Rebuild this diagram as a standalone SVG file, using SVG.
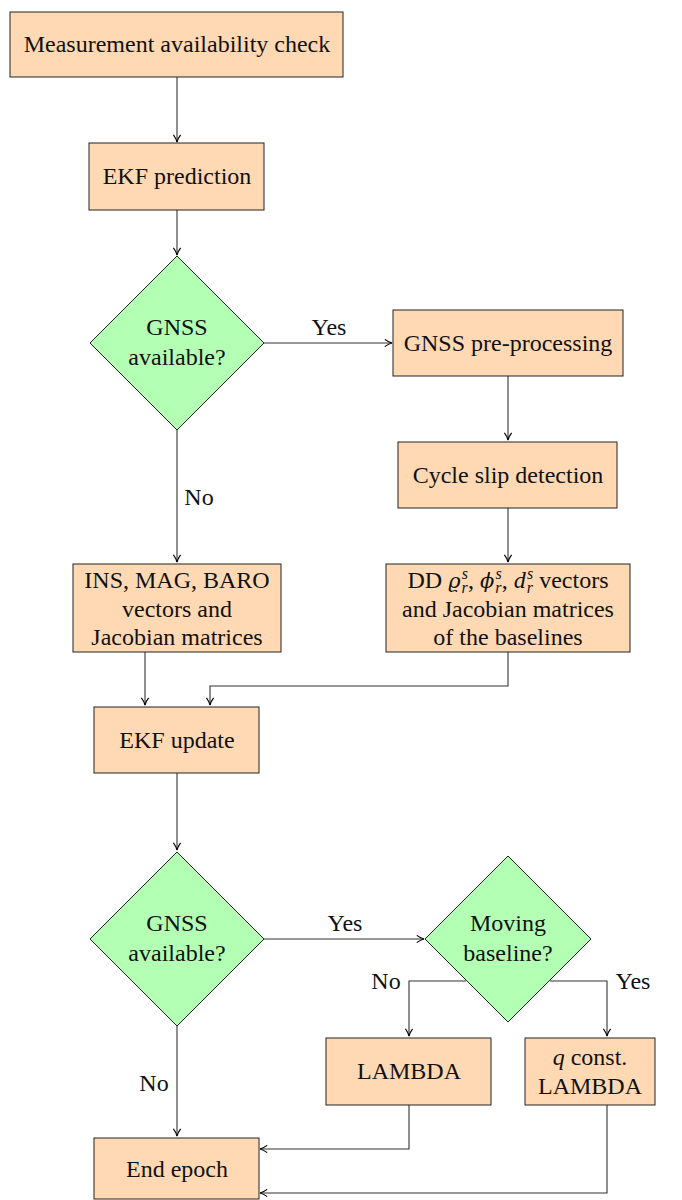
<svg xmlns="http://www.w3.org/2000/svg" width="682" height="1200" viewBox="0 0 682 1200">
<defs>
<marker id="ah" viewBox="0 0 10 10" refX="9" refY="5" markerWidth="9" markerHeight="9" markerUnits="userSpaceOnUse" orient="auto">
<path d="M1,1 Q5,4 9,5 Q5,6 1,9" fill="none" stroke="#000" stroke-width="1.3"/>
</marker>
</defs>
<style>
.box{fill:#FFD9B3;stroke:#222;stroke-width:1}
.dia{fill:#B3FFB3;stroke:#222;stroke-width:1}
.c{fill:none;stroke:#333;stroke-width:1.1}
</style>
<rect width="682" height="1200" fill="#fff"/>
<g font-family="Liberation Serif" font-size="24" fill="#111" text-anchor="middle">
<g id="connectors">
<path class="c" d="M177,77 V142" marker-end="url(#ah)"/>
<path class="c" d="M177,210 V255" marker-end="url(#ah)"/>
<path class="c" d="M264,343 H392" marker-end="url(#ah)"/>
<path class="c" d="M508,376 V440" marker-end="url(#ah)"/>
<path class="c" d="M508,508 V562" marker-end="url(#ah)"/>
<path class="c" d="M177,430 V562" marker-end="url(#ah)"/>
<path class="c" d="M145,652 V705" marker-end="url(#ah)"/>
<path class="c" d="M508,652 V686 H210 V705" marker-end="url(#ah)"/>
<path class="c" d="M177,773 V850" marker-end="url(#ah)"/>
<path class="c" d="M264,939 H424" marker-end="url(#ah)"/>
<path class="c" d="M466,981 H409 V1036" marker-end="url(#ah)"/>
<path class="c" d="M550,981 H607 V1036" marker-end="url(#ah)"/>
<path class="c" d="M177,1026 V1136" marker-end="url(#ah)"/>
<path class="c" d="M409,1105 V1149 H260" marker-end="url(#ah)"/>
<path class="c" d="M607,1105 V1193 H260" marker-end="url(#ah)"/>
<text x="329" y="335">Yes</text>
<text x="199" y="505">No</text>
<text x="345" y="931">Yes</text>
<text x="386" y="989">No</text>
<text x="633" y="989">Yes</text>
<text x="154" y="1091">No</text>
</g>
<g id="n1"><rect class="box" x="10" y="12" width="333" height="65"/><text x="177" y="52">Measurement availability check</text></g>
<g id="n2"><rect class="box" x="89" y="143" width="175" height="67"/><text x="177" y="184">EKF prediction</text></g>
<g id="d1"><polygon class="dia" points="177,256 264,343 177,430 90,343"/><text x="177" y="335">GNSS</text><text x="177" y="365">available?</text></g>
<g id="n3"><rect class="box" x="393" y="310" width="230" height="66"/><text x="508" y="351">GNSS pre-processing</text></g>
<g id="n4"><rect class="box" x="398" y="442" width="219" height="66"/><text x="508" y="483">Cycle slip detection</text></g>
<g id="n5"><rect class="box" x="386" y="564" width="244" height="88"/>
<text x="508" y="588">DD <tspan font-family="DejaVu Serif" font-size="21" font-style="italic">ϱ</tspan><tspan font-style="italic" font-size="16" dy="5" dx="1">r</tspan><tspan font-style="italic" font-size="16" dx="-6" dy="-14">s</tspan><tspan dy="9">, </tspan><tspan font-family="DejaVu Serif" font-size="21" font-style="italic">ϕ</tspan><tspan font-style="italic" font-size="16" dy="5" dx="1">r</tspan><tspan font-style="italic" font-size="16" dx="-6" dy="-14">s</tspan><tspan dy="9">, </tspan><tspan font-style="italic">d</tspan><tspan font-style="italic" font-size="16" dy="5" dx="1">r</tspan><tspan font-style="italic" font-size="16" dx="-6" dy="-14">s</tspan><tspan dy="9"> vectors</tspan></text>
<text x="508" y="617">and Jacobian matrices</text><text x="508" y="645">of the baselines</text></g>
<g id="n6"><rect class="box" x="73" y="564" width="208" height="88"/><text x="177" y="588">INS, MAG, BARO</text><text x="177" y="617">vectors and</text><text x="177" y="645">Jacobian matrices</text></g>
<g id="n7"><rect class="box" x="94" y="707" width="165" height="66"/><text x="177" y="748">EKF update</text></g>
<g id="d2"><polygon class="dia" points="177,852 264,939 177,1026 90,939"/><text x="177" y="931">GNSS</text><text x="177" y="961">available?</text></g>
<g id="d3"><polygon class="dia" points="508,856 591,939 508,1022 425,939"/><text x="508" y="931">Moving</text><text x="508" y="961">baseline?</text></g>
<g id="n8"><rect class="box" x="326" y="1038" width="165" height="67"/><text x="409" y="1079">LAMBDA</text></g>
<g id="n9"><rect class="box" x="525" y="1038" width="130" height="67"/><text x="590" y="1065"><tspan font-style="italic">q</tspan> const.</text><text x="590" y="1094">LAMBDA</text></g>
<g id="n10"><rect class="box" x="94" y="1138" width="165" height="61"/><text x="177" y="1177">End epoch</text></g>
</g>
</svg>
